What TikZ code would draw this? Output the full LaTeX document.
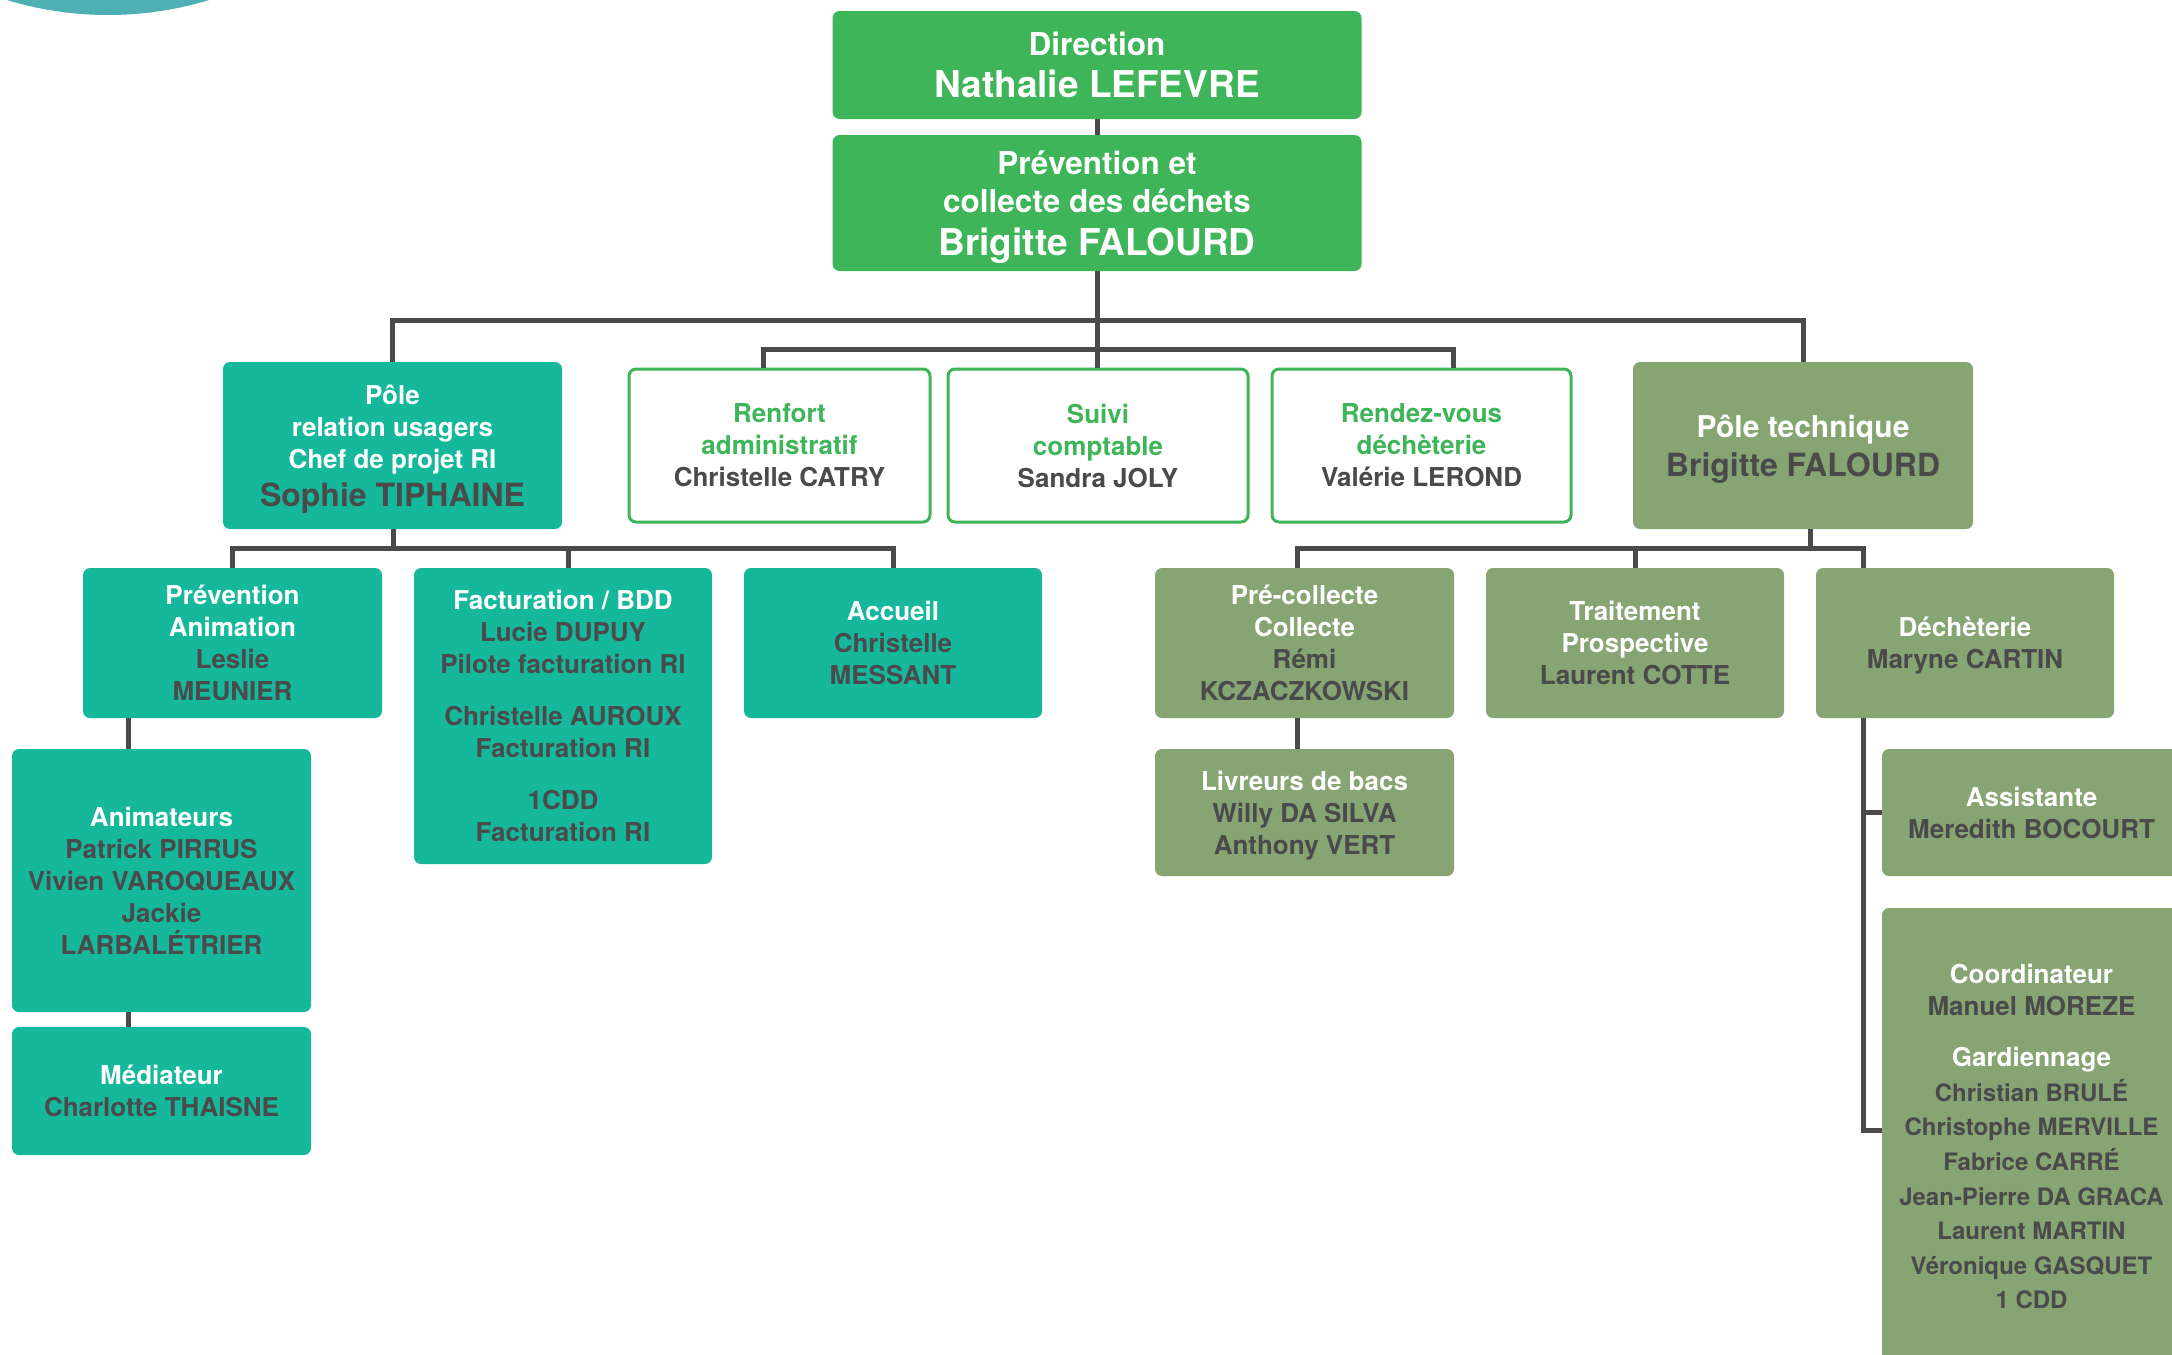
\documentclass[tikz,border=0pt]{standalone}
\usepackage{fontspec}
\setmainfont{TeX Gyre Heros}
\definecolor{dgreen}{HTML}{3EB558}
\definecolor{tealbg}{HTML}{16B89B}
\definecolor{olivebg}{HTML}{87A473}
\definecolor{txtgray}{HTML}{4A4A4C}
\definecolor{linegray}{HTML}{4A4A4C}
\definecolor{arcteal}{HTML}{4FB0B4}
\newcommand\txw[1]{\textcolor{white}{#1}}
\newcommand\txg[1]{\textcolor{dgreen}{#1}}
\newcommand\smalltxt[1]{{\fontsize{24}{32}\selectfont #1}}
\newcommand\nodesc[1]{\raisebox{0pt}[\height][0pt]{#1}}
\begin{document}
\begin{tikzpicture}[x=1pt,y=-1pt,
  base/.style={rounded corners=7pt, inner sep=0pt, align=center,
    font=\bfseries\fontsize{26}{32}\selectfont, text=txtgray},
  sz/.style 2 args={minimum width=#1pt, minimum height=#2pt},
  dgbox/.style={base, fill=dgreen, text=white},
  tealbox/.style={base, fill=tealbg},
  olbox/.style={base, fill=olivebg},
  outbox/.style={base, draw=dgreen, line width=3pt, fill=white},
  conn/.style={draw=linegray, line width=5pt}]
\useasboundingbox (0,0) rectangle (2172,1355);
\clip (0,0) rectangle (2172,1355);
% decorative arc
\fill[arcteal] (108,-332) circle[radius=347pt];

% top
\node[dgbox, sz={529}{108}, font=\bfseries\fontsize{31.5}{42}\selectfont] (dir) at (1097,65)
  {Direction\\{\fontsize{37}{42}\selectfont Nathalie LEFEVRE}};
\node[dgbox, sz={529}{136}, font=\bfseries\fontsize{31.5}{38}\selectfont] (prev) at (1097,203)
  {Prévention et\\collecte des déchets\\[5pt]{\fontsize{37}{38}\selectfont \nodesc{Brigitte FALOURD}}};

% level 2
\node[tealbox, sz={339}{167}] (pru) at (392.5,445.5)
  {\txw{Pôle}\\\txw{relation usagers}\\\txw{Chef de projet RI}\\[6pt]{\fontsize{32}{32}\selectfont \nodesc{Sophie TIPHAINE}}};
\node[outbox, sz={301}{153}] (renfort) at (779.5,445.5)
  {\txg{Renfort}\\\txg{administratif}\\Christelle CATRY};
\node[outbox, sz={300}{153}] (suivi) at (1098,445.5)
  {\txg{Suivi}\\\txg{comptable}\\Sandra JOLY};
\node[outbox, sz={299}{153}] (rdv) at (1421.5,445.5)
  {\txg{Rendez-vous}\\\txg{déchèterie}\\Valérie LEROND};
\node[olbox, sz={340}{167}, font=\bfseries\fontsize{30}{39}\selectfont] (ptech) at (1803,445.5)
  {\txw{Pôle technique}\\{\fontsize{32}{39}\selectfont \nodesc{Brigitte FALOURD}}};

% level 3 left
\node[tealbox, sz={299}{150}] (prevanim) at (232.5,643)
  {\txw{Prévention}\\\txw{Animation}\\Leslie\\MEUNIER};
\node[tealbox, sz={298}{296}] (fact) at (563,716)
  {\txw{Facturation / BDD}\\Lucie DUPUY\\Pilote facturation RI\\[20pt]Christelle AUROUX\\Facturation RI\\[20pt]1CDD\\Facturation RI};
\node[tealbox, sz={298}{150}] (accueil) at (893,643)
  {\txw{Accueil}\\Christelle\\MESSANT};
\node[tealbox, sz={299}{263}] (anim) at (161.5,880.5)
  {\txw{Animateurs}\\Patrick PIRRUS\\Vivien VAROQUEAUX\\Jackie\\LARBALÉTRIER};
\node[tealbox, sz={299}{128}] (medi) at (161.5,1091)
  {\txw{Médiateur}\\Charlotte THAISNE};

% level 3 right
\node[olbox, sz={299}{150}] (precol) at (1304.5,643)
  {\txw{Pré-collecte}\\\txw{Collecte}\\Rémi\\KCZACZKOWSKI};
\node[olbox, sz={298}{150}] (trait) at (1635,643)
  {\txw{Traitement}\\\txw{Prospective}\\Laurent COTTE};
\node[olbox, sz={298}{150}] (dech) at (1965,643)
  {\txw{Déchèterie}\\\nodesc{Maryne CARTIN}};
\node[olbox, sz={299}{127}] (livr) at (1304.5,812.5)
  {\txw{Livreurs de bacs}\\Willy DA SILVA\\\nodesc{Anthony VERT}};
\node[olbox, sz={299}{127}] (assist) at (2031.5,812.5)
  {\txw{Assistante}\\Meredith BOCOURT};
\node[olbox, sz={299}{457}] (coord) at (2031.5,1136.5)
  {\txw{Coordinateur}\\Manuel MOREZE\\[19pt]\txw{Gardiennage}\\[3pt]\smalltxt{Christian BRULÉ}\\[2.6pt]\smalltxt{Christophe MERVILLE}\\[2.6pt]\smalltxt{Fabrice CARRÉ}\\[2.6pt]\smalltxt{Jean-Pierre DA GRACA}\\[2.6pt]\smalltxt{Laurent MARTIN}\\[2.6pt]\smalltxt{Véronique GASQUET}\\[2.6pt]\smalltxt{1 CDD}};

% connectors
\coordinate (tb) at (1097,320);
\coordinate (sbL) at (763,349);
\coordinate (sbR) at (1453,349);
\coordinate (pb) at (393,548);
\coordinate (tb2) at (1810,548);
\coordinate (cs) at (1882,1130);
\draw[conn] (dir.south) -- (prev.north);
\draw[conn] (prev.south) -- (prev.south |- suivi.north);
\draw[conn] (pru.north) |- (tb) -| (ptech.north);
\draw[conn] (renfort.north -| sbL) |- (sbR) -- (rdv.north -| sbR);
\draw[conn] (393,0 |- pru.south) -- (pb);
\draw[conn] (prevanim.north) |- (accueil.north |- pb) -- (accueil.north);
\draw[conn] (568,0 |- fact.north) -- (568,0 |- pb);
\draw[conn] (1810,0 |- ptech.south) -- (tb2);
\draw[conn] (1297,0 |- precol.north) |- (1863,0 |- tb2) -- (1863,0 |- dech.north);
\draw[conn] (trait.north) -- (trait.north |- tb2);
\draw[conn] (1297,0 |- precol.south) -- (1297,0 |- livr.north);
\draw[conn] (128,0 |- prevanim.south) -- (128,0 |- anim.north);
\draw[conn] (128,0 |- anim.south) -- (128,0 |- medi.north);
\draw[conn] (1863,0 |- dech.south) |- (cs);
\draw[conn] (assist.west) -- (assist.west -| 1863,0);
\end{tikzpicture}
\end{document}
